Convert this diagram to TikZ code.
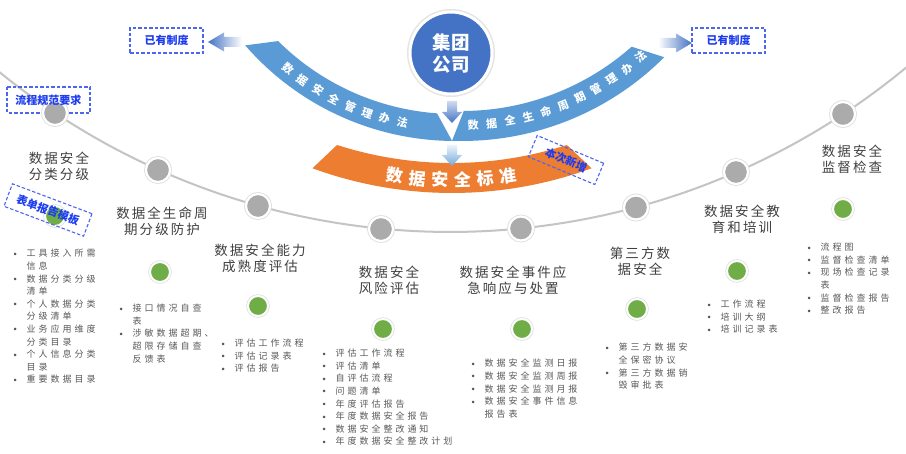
\documentclass[tikz,border=0pt]{standalone}
\usepackage{fontspec}
\newfontfamily\cjk{Noto Sans CJK SC}
\newfontfamily\cjktitle[LetterSpace=15]{Noto Sans CJK SC}
\newfontfamily\cjklist[LetterSpace=33]{Noto Sans CJK SC}
\definecolor{bandblue}{HTML}{5B9BD5}
\definecolor{circblue}{HTML}{4472C4}
\definecolor{orangeb}{HTML}{ED7D31}
\definecolor{tagblue}{HTML}{1C3CF2}
\definecolor{tagline}{HTML}{4C66F0}
\definecolor{titlegray}{HTML}{404040}
\definecolor{listgray}{HTML}{595959}
\definecolor{dotgray}{HTML}{ABABAB}
\definecolor{dotgreen}{HTML}{70AD47}
\definecolor{linegray}{HTML}{C4C4C4}
\newcommand\bu{\makebox[0pt][c]{\raisebox{0.6pt}{\rmfamily\textbullet}}\hspace*{11.5pt}}
\newcommand\ct{\hspace*{11.5pt}}
\tikzset{
  graydot/.style={circle, fill=dotgray, draw=white, line width=2.2, minimum size=24, inner sep=0,
    preaction={draw=black!12, line width=4}},
  greendot/.style={circle, fill=dotgreen, draw=white, line width=2, minimum size=20, inner sep=0,
    preaction={draw=black!12, line width=3.6}},
  ttl/.style={font=\cjktitle\fontsize{13.5}{16}\selectfont, text=titlegray, align=center, inner sep=0},
  listbox/.style={font=\cjklist\fontsize{9}{12.6}\selectfont, text=listgray, align=left, inner sep=0, anchor=north west},
  tagborder/.style={draw=tagline, dash pattern=on 3.5pt off 2pt, line width=1.1},
  tagtext/.style={inner sep=0, font=\cjk\bfseries\fontsize{11}{13}\selectfont, text=tagblue},
  tag/.style={tagborder, tagtext},
  bandtxt/.style={font=\cjk\bfseries\fontsize{11}{13}\selectfont, text=white, inner sep=0},
  bigtxt/.style={font=\cjk\bfseries\fontsize{17}{20}\selectfont, text=white, inner sep=0},
}
\begin{document}
\begin{tikzpicture}[x=1pt,y=-1pt]
\useasboundingbox (0,0) rectangle (906,454);
\fill[white] (0,0) rectangle (906,454);
% backbone arc
\draw[linegray, line width=2] plot[domain=131:48, samples=90] ({450+715*cos(\x)},{-483+715*sin(\x)});
% left blue band
\fill[bandblue] plot[domain=134.8:94.1, samples=40] ({455+251*cos(\x)},{-137+251*sin(\x)})
  -- plot[domain=90.6:139, samples=40] ({455+278*cos(\x)},{-137+278*sin(\x)}) -- cycle;
% right blue band
\fill[bandblue] plot[domain=89.6:48.5, samples=40] ({462+256*cos(\x)},{-145+256*sin(\x)})
  -- plot[domain=45:92, samples=40] ({462+286*cos(\x)},{-145+286*sin(\x)}) -- cycle;
% orange band
\fill[orangeb] plot[domain=107.8:72.2, samples=40] ({452+376*cos(\x)},{-213+376*sin(\x)})
  -- plot[domain=69.9:110.1, samples=40] ({452+406*cos(\x)},{-213+406*sin(\x)}) -- cycle;
% band texts
\foreach \ch [count=\i from 0] in {数,据,安,全,管,理,办,法} {
  \pgfmathsetmacro\a{129-3.93*\i}
  \node[bandtxt, rotate=90-\a] (lb\i) at ({455+265*cos(\a)},{-137+265*sin(\a)}) {\ch};
}
\foreach \ch [count=\i from 0] in {数,据,全,生,命,周,期,管,理,办,法} {
  \pgfmathsetmacro\a{87.6-3.92*\i}
  \node[bandtxt, rotate=90-\a] (rb\i) at ({462+270*cos(\a)},{-145+270*sin(\a)}) {\ch};
}
\foreach \ch [count=\i from 0] in {数,据,安,全,标,准} {
  \pgfmathsetmacro\a{98.3-3.31*\i}
  \node[bigtxt, rotate=90-\a] (ob\i) at ({452+393*cos(\a)},{-213+393*sin(\a)}) {\ch};
}
% small down arrows
\shade[top color=circblue!25, bottom color=circblue] (447,101) -- (457,101) -- (457,112) -- (462,112) -- (452,123) -- (442,112) -- (447,112) -- cycle;
\shade[top color=bandblue!12, bottom color=bandblue!85] (447,145) -- (457,145) -- (457,155) -- (462,155) -- (452,166) -- (442,155) -- (447,155) -- cycle;
% side arrows
\shade[left color=circblue, right color=white] (208,42) -- (224,32.5) -- (224,37) -- (242,37) -- (242,47) -- (224,47) -- (224,51.5) -- cycle;
\shade[left color=white, right color=circblue] (692,43) -- (676,33.5) -- (676,38) -- (658,38) -- (658,48) -- (676,48) -- (676,52.5) -- cycle;
% group circle
\fill[black!10] (451,53) circle[radius=44];
\node[circle, fill=circblue, draw=white, line width=3, minimum size=82, inner sep=0, align=center,
  font=\cjk\bfseries\fontsize{18.5}{22}\selectfont, text=white] (hq) at (451,53) {集团\\公司};
% border of the process tag lies under the first dot
\draw[tagborder] (7,87) rectangle (90,113);
% gray dots on the backbone
\node[graydot] (g1) at (55,113) {};
\node[graydot] (g2) at (158,170) {};
\node[graydot] (g3) at (258,206) {};
\node[graydot] (g4) at (381,229) {};
\node[graydot] (g5) at (521,228.5) {};
\node[graydot] (g6) at (636,207.5) {};
\node[graydot] (g7) at (736,172) {};
\node[graydot] (g8) at (843,114) {};
% green dots
\node[greendot] (n1) at (55,216) {};
\node[greendot] (n2) at (160,272) {};
\node[greendot] (n3) at (258,306) {};
\node[greendot] (n4) at (383,329) {};
\node[greendot] (n5) at (522,329) {};
\node[greendot] (n6) at (637,309) {};
\node[greendot] (n7) at (737,271) {};
\node[greendot] (n8) at (843,209) {};
% titles
\node[ttl] (t1) at (59,166) {数据安全\\分类分级};
\node[ttl] (t2) at (162,221) {数据全生命周\\期分级防护};
\node[ttl] (t3) at (260,258) {数据安全能力\\成熟度评估};
\node[ttl] (t4) at (389,280) {数据安全\\风险评估};
\node[ttl] (t5) at (513,280.5) {数据安全事件应\\急响应与处置};
\node[ttl] (t6) at (640,261) {第三方数\\据安全};
\node[ttl] (t7) at (742,219) {数据安全教\\育和培训};
\node[ttl] (t8) at (852,159.5) {数据安全\\监督检查};
% lists
\node[listbox] (l1) at (15,249.2) {\bu 工具接入所需\\\ct 信息\\\bu 数据分类分级\\\ct 清单\\\bu 个人数据分类\\\ct 分级清单\\\bu 业务应用维度\\\ct 分类目录\\\bu 个人信息分类\\\ct 目录\\\bu 重要数据目录};
\node[listbox] (l2) at (121,304) {\bu 接口情况自查\\\ct 表\\\bu 涉敏数据超期、\\\ct 超限存储自查\\\ct 反馈表};
\node[listbox] (l3) at (223,339) {\bu 评估工作流程\\\bu 评估记录表\\\bu 评估报告};
\node[listbox] (l4) at (324,349) {\bu 评估工作流程\\\bu 评估清单\\\bu 自评估流程\\\bu 问题清单\\\bu 年度评估报告\\\bu 年度数据安全报告\\\bu 数据安全整改通知\\\bu 年度数据安全整改计划};
\node[listbox] (l5) at (473,359) {\bu 数据安全监测日报\\\bu 数据安全监测周报\\\bu 数据安全监测月报\\\bu 数据安全事件信息\\\ct 报告表};
\node[listbox] (l6) at (607,343) {\bu 第三方数据安\\\ct 全保密协议\\\bu 第三方数据销\\\ct 毁审批表};
\node[listbox] (l7) at (709,300) {\bu 工作流程\\\bu 培训大纲\\\bu 培训记录表};
\node[listbox] (l8) at (809,243) {\bu 流程图\\\bu 监督检查清单\\\bu 现场检查记录\\\ct 表\\\bu 监督检查报告\\\bu 整改报告};
% tags
\node[tag, minimum width=73, minimum height=25] (tagL) at (166.5,40.5) {已有制度};
\node[tag, minimum width=73, minimum height=25] (tagR) at (728.5,40.5) {已有制度};
\node[tagtext] (tagP) at (48.5,100) {流程规范要求};
\node[tag, minimum width=85, minimum height=24, rotate=-20.6] (tagF) at (48,210) {表单报告模板};
\node[tag, minimum width=72, minimum height=23, rotate=-22.7] (tagN) at (566,160) {本次新增};
\end{tikzpicture}
\end{document}
